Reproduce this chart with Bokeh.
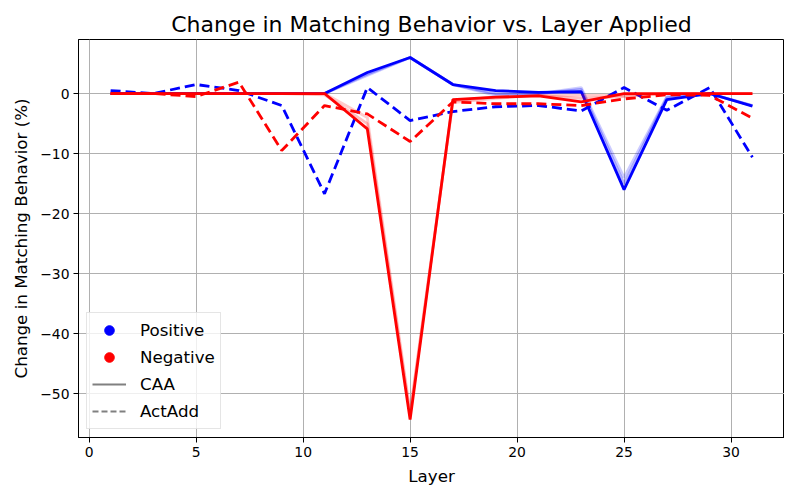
from bokeh.plotting import figure
from bokeh.models import (FixedTicker, CustomJSTickFormatter, Legend, LegendItem,
                          ColumnDataSource, Range1d)
from bokeh.embed import file_html
from bokeh.resources import INLINE

# ---- data ----
layers = [1, 3, 5, 7, 9, 11, 13, 15, 17, 19, 21, 23, 25, 27, 29, 31]

pos_caa = [0, 0, 0, 0, 0, 0, 3.5, 6.0, 1.5, 0.5, 0.2, 0.3, -16.0, -1.0, 0, -2.1]
pos_caa_faded_a = [0, 0, 0, 0, 0, 0, 3.0, 6.0, 1.5, -0.3, 0, 1.0, -14.0, -0.5, 0, -2.0]
pos_caa_faded_b = [0, 0, 0, 0, 0, 0, 3.2, 6.0, 1.5, 0.0, 0, 0.7, -15.0, -0.7, 0, -2.0]

neg_caa = [0, 0, 0, 0, 0, 0, -5.9, -54.3, -1.0, -0.6, -0.4, -1.4, 0, 0, 0, 0]
neg_caa_faded_a = [0, 0, 0, 0, 0, 0, -4.0, -53.0, -1.5, -0.8, -0.3, -0.3, -0.3, 0, 0, 0]
neg_caa_faded_b = [0, 0, 0, 0, 0, -0.2, -5.0, -53.5, -1.2, -0.6, -0.3, -0.8, -0.5, 0, 0, 0]

pos_actadd = [0.5, 0, 1.5, 0.5, -2.0, -16.7, 1.0, -4.5, -3.0, -2.2, -2.0, -2.9, 1.0, -2.8, 1.0, -10.6]
neg_actadd = [0, 0, -0.5, 1.9, -9.5, -2.0, -3.4, -8.0, -1.4, -1.7, -1.7, -2.0, -0.9, -0.2, -0.3, -4.1]

x_ticks = [0, 5, 10, 15, 20, 25, 30]
y_ticks = [0, -10, -20, -30, -40, -50]

FONT = "DejaVu Sans"

p = figure(width=784, height=484, output_backend="svg", toolbar_location=None,
           x_range=Range1d(-0.5, 32.5), y_range=Range1d(-57.3, 9.0),
           min_border_left=78, min_border_right=0, min_border_top=39, min_border_bottom=47,
           title="Change in Matching Behavior vs. Layer Applied")
p.frame_width = 706
p.frame_height = 398

p.title.text_font = FONT
p.title.text_font_size = "22px"
p.title.text_font_style = "normal"
p.title.text_color = "black"
p.title.align = "center"
p.title.offset = 0
p.title.standoff = 6

for ax in (p.xaxis[0], p.yaxis[0]):
    ax.axis_label_text_font = FONT
    ax.axis_label_text_font_size = "16.7px"
    ax.axis_label_text_font_style = "normal"
    ax.axis_label_text_color = "black"
    ax.major_label_text_font = FONT
    ax.major_label_text_font_size = "13.9px"
    ax.major_label_text_color = "black"
    ax.major_tick_out = 5
    ax.major_tick_in = 0
    ax.minor_tick_out = 0
    ax.minor_tick_in = 0
    ax.axis_line_color = "black"
    ax.major_tick_line_color = "black"

p.xaxis.axis_label = "Layer"
p.yaxis.axis_label = "Change in Matching Behavior (%)"
p.xaxis.ticker = FixedTicker(ticks=x_ticks)
p.yaxis.ticker = FixedTicker(ticks=y_ticks)
p.yaxis.formatter = CustomJSTickFormatter(code="return tick < 0 ? '\u2212' + Math.abs(tick) : '' + tick;")
p.xaxis.axis_label_standoff = 6
p.yaxis.axis_label_standoff = 6
p.xaxis.major_label_standoff = 4
p.yaxis.major_label_standoff = 4

p.xgrid.grid_line_color = "#b0b0b0"
p.ygrid.grid_line_color = "#b0b0b0"
p.xgrid.grid_line_width = 1
p.ygrid.grid_line_width = 1
p.xgrid.ticker = FixedTicker(ticks=x_ticks)
p.ygrid.ticker = FixedTicker(ticks=y_ticks)

p.outline_line_color = "black"
p.outline_line_width = 1
p.outline_line_alpha = 1

LW = 2.8
DASH = "10 5"

src = ColumnDataSource(dict(x=layers, pc=pos_caa, pca=pos_caa_faded_a, pcb=pos_caa_faded_b,
                            nc=neg_caa, nca=neg_caa_faded_a, ncb=neg_caa_faded_b,
                            pa=pos_actadd, na=neg_actadd))

# positive CAA (faded variants + main)
p.line("x", "pca", source=src, line_color="blue", line_width=LW, line_alpha=0.2)
p.line("x", "pcb", source=src, line_color="blue", line_width=LW, line_alpha=0.3)
p.line("x", "pc", source=src, line_color="blue", line_width=LW)
# positive ActAdd
p.line("x", "pa", source=src, line_color="blue", line_width=LW, line_dash=DASH)
# negative CAA
p.line("x", "nca", source=src, line_color="red", line_width=LW, line_alpha=0.2)
p.line("x", "ncb", source=src, line_color="red", line_width=LW, line_alpha=0.25)
p.line("x", "nc", source=src, line_color="red", line_width=LW)
# negative ActAdd
p.line("x", "na", source=src, line_color="red", line_width=LW, line_dash=DASH)

# legend proxies (not drawn in the plot: NaN data)
nan = float("nan")
proxy = ColumnDataSource(dict(x=[nan], y=[nan]))
r_pos = p.scatter("x", "y", source=proxy, size=15, color="blue")
r_neg = p.scatter("x", "y", source=proxy, size=15, color="red")
r_caa = p.line("x", "y", source=proxy, line_color="gray", line_width=2)
r_act = p.line("x", "y", source=proxy, line_color="gray", line_width=2, line_dash="6 3")

legend = Legend(items=[LegendItem(label="Positive", renderers=[r_pos]),
                       LegendItem(label="Negative", renderers=[r_neg]),
                       LegendItem(label="CAA", renderers=[r_caa]),
                       LegendItem(label="ActAdd", renderers=[r_act])],
                location="bottom_left")
legend.label_text_font = FONT
legend.label_text_font_size = "16.7px"
legend.label_text_color = "black"
legend.glyph_width = 34
legend.glyph_height = 24
legend.label_height = 24
legend.label_standoff = 14
legend.spacing = 3
legend.padding = 5
legend.margin = 8
legend.border_line_color = "#cccccc"
legend.border_line_width = 1
legend.background_fill_alpha = 0.8
p.add_layout(legend)

open("out.html", "w").write(file_html(p, INLINE))
